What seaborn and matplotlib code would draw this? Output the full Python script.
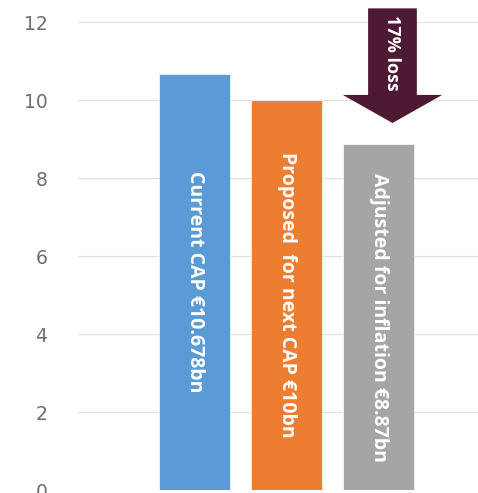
import matplotlib
matplotlib.use("Agg")
import matplotlib.pyplot as plt
import seaborn as sns
import pandas as pd
from matplotlib.patches import Polygon

categories = ["Current CAP", "Proposed for next CAP", "Adjusted for inflation"]
values = [10.678, 10.0, 8.87]
bar_labels = ["Current CAP €10.678bn", "Proposed  for next CAP €10bn", "Adjusted for inflation €8.87bn"]
colors = ["#5B9BD5", "#ED7D31", "#A5A5A5"]
yticks = [0, 2, 4, 6, 8, 10, 12]
arrow_label = "17% loss"

sns.set_theme(style="white")
plt.rcParams['font.family'] = ['DejaVu Sans']

W, H = 478, 493
fig = plt.figure(figsize=(W / 100, H / 100), dpi=100)
ax = fig.add_axes([78 / W, 3 / H, 1 - 78 / W, (490 - 22) / H])

df = pd.DataFrame({"cat": categories, "val": values})
sns.barplot(data=df, x="cat", y="val", hue="cat", palette=colors, legend=False,
            width=0.77, saturation=1, ax=ax, edgecolor="#F4F4F4", linewidth=0.6)

ax.set_xlim(-1.27, 3.08)
ax.set_ylim(0, 12)
ax.set_yticks(yticks)
ax.set_yticklabels([str(t) for t in yticks])
ax.tick_params(axis="y", length=0, pad=22, labelsize=13.5, labelcolor="#6E6E6E")
ax.set_xticks([])
ax.set_xlabel("")
ax.set_ylabel("")
for s in ax.spines.values():
    s.set_visible(False)
ax.yaxis.grid(True, color="#E0E0E0", linewidth=0.9)
ax.set_axisbelow(True)

for i, (v, lab) in enumerate(zip(values, bar_labels)):
    ax.text(i, v / 2, lab, rotation=-90, ha="center", va="center",
            color="white", fontsize=14, fontweight="bold",
            family=["Open Sans", "DejaVu Sans"])

# arrow
cx = 2.15
shaft_w = 0.53
head_w = 1.08
tip = 9.41
head_base = 10.13
top = 12.35
pts = [(cx - shaft_w / 2, top), (cx + shaft_w / 2, top), (cx + shaft_w / 2, head_base),
       (cx + head_w / 2, head_base), (cx, tip), (cx - head_w / 2, head_base),
       (cx - shaft_w / 2, head_base)]
ax.add_patch(Polygon(pts, closed=True, facecolor="#4E1A33", edgecolor="none",
                     clip_on=False, zorder=5))
ax.text(cx, 11.2, arrow_label, rotation=-90, ha="center", va="center", color="white",
        fontsize=13, fontweight="bold", family=["Open Sans", "DejaVu Sans"], zorder=6)

fig.savefig("out.png", dpi=100)
